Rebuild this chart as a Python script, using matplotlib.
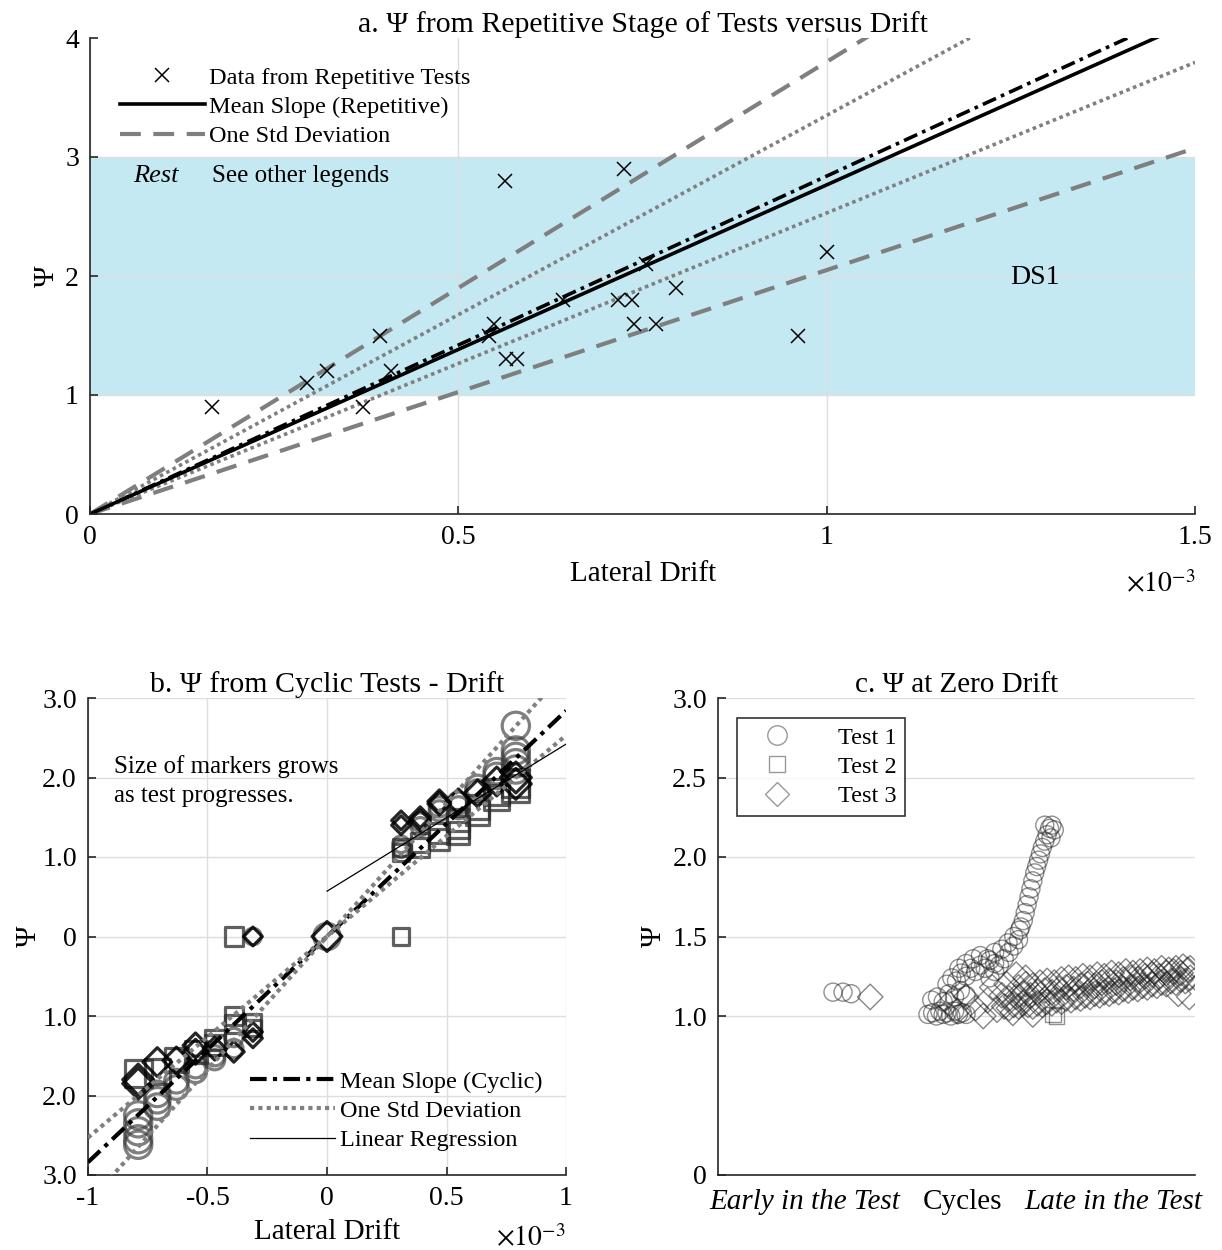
import matplotlib.pyplot as plt
import numpy as np
from matplotlib.ticker import FuncFormatter
from matplotlib.lines import Line2D

plt.rcParams['font.family'] = ['Liberation Serif', 'DejaVu Serif']
plt.rcParams['mathtext.fontset'] = 'stix'
plt.rcParams['font.size'] = 20

# ---- panel a: repetitive tests (drift in units of 1e-3) ----
rep_drift = [0.165, 0.295, 0.322, 0.370, 0.393, 0.408, 0.542, 0.548, 0.563, 0.565, 0.580,
             0.642, 0.725, 0.717, 0.736, 0.738, 0.755, 0.768, 0.795, 0.961, 1.000]
rep_psi = [0.90, 1.10, 1.20, 0.90, 1.50, 1.20, 1.50, 1.60, 2.80, 1.30, 1.30,
           1.80, 2.90, 1.80, 1.80, 1.60, 2.10, 1.60, 1.90, 1.50, 2.20]

rep_mean_slope = 2.766
rep_std_slopes = [2.05, 3.80]
cyc_mean_slope = 2.84
cyc_std_slopes = [2.53, 3.35]
reg_intercept = 0.57
reg_slope = 1.85
reg_drift = [0.0, 1.0]

# ---- panel b: cyclic tests ----
cyc1_drift = [0.31, 0.31, 0.39, 0.39, 0.47, 0.47, 0.55, 0.55, 0.63, 0.63, 0.71, 0.71, 0.79, 0.79, 0.79, 0.79, 0.79,
              -0.39, -0.39, -0.47, -0.47, -0.55, -0.55, -0.63, -0.63, -0.71, -0.71, -0.71,
              -0.79, -0.79, -0.79, -0.79, -0.79,
              0.0, -0.31]
cyc1_psi = [1.10, 1.16, 1.38, 1.44, 1.58, 1.63, 1.62, 1.68, 1.82, 1.88, 2.02, 2.08, 2.10, 2.18, 2.26, 2.34, 2.65,
            -1.27, -1.41, -1.50, -1.55, -1.64, -1.70, -1.82, -1.90, -1.98, -2.06, -2.14,
            -2.25, -2.35, -2.45, -2.55, -2.62,
            0.0, 0.0]

cyc2_drift = [0.31, 0.31, 0.39, 0.39, 0.47, 0.47, 0.55, 0.55, 0.55, 0.63, 0.63, 0.71, 0.71, 0.79, 0.79,
              -0.31, -0.31, -0.39, -0.39, -0.47, -0.47, -0.55, -0.63, -0.71, -0.79,
              -0.39, 0.31]
cyc2_psi = [1.06, 1.12, 1.12, 1.18, 1.22, 1.30, 1.30, 1.38, 1.46, 1.55, 1.63, 1.75, 1.82, 1.86, 1.93,
            -1.08, -1.15, -1.00, -1.10, -1.30, -1.36, -1.45, -1.55, -1.70, -1.72,
            0.0, 0.0]

cyc3_drift = [0.31, 0.31, 0.39, 0.39, 0.47, 0.47, 0.55, 0.63, 0.71, 0.79, 0.79,
              -0.31, -0.31, -0.39, -0.47, -0.55, -0.55, -0.63, -0.71, -0.79, -0.79,
              0.0, -0.31]
cyc3_psi = [1.40, 1.46, 1.46, 1.50, 1.67, 1.70, 1.70, 1.80, 1.95, 1.92, 2.00,
            -1.20, -1.28, -1.45, -1.41, -1.37, -1.45, -1.56, -1.58, -1.80, -1.85,
            0.0, 0.0]

# ---- panel c: psi at zero drift, cycle position 0..100 ----
zero1_cycle = [24.1, 26.2, 27.9,
               44.0, 45.0, 45.8, 46.5, 47.2, 48.0, 48.8, 49.6, 50.4, 51.2, 52.0,
               44.8, 46.0, 47.2, 48.4, 49.6, 50.8, 52.0,
               48.0, 49.0, 50.0, 51.0, 52.0, 53.0, 54.0, 55.0, 56.0, 57.0, 58.0,
               50.5, 52.0, 53.5, 55.0, 56.5, 58.0,
               57.0, 58.0, 59.0, 60.0, 61.0, 62.0, 63.0,
               59.5, 60.8, 62.0, 63.2,
               63.5, 64.0, 64.4, 64.8, 65.2, 65.6, 66.0, 66.4, 66.8,
               67.2, 67.6, 68.0, 68.5, 69.0, 69.5, 70.0, 70.5, 68.5, 69.8]
zero1_psi = [1.15, 1.15, 1.14,
             1.01, 1.02, 1.00, 1.03, 1.01, 1.02, 1.00, 1.03, 1.01, 1.02, 1.01,
             1.10, 1.12, 1.09, 1.14, 1.12, 1.16, 1.13,
             1.20, 1.24, 1.22, 1.27, 1.25, 1.30, 1.28, 1.32, 1.30, 1.35, 1.33,
             1.30, 1.33, 1.36, 1.38, 1.36, 1.40,
             1.24, 1.28, 1.32, 1.36, 1.40, 1.44, 1.48,
             1.42, 1.46, 1.50, 1.54,
             1.56, 1.60, 1.65, 1.70, 1.75, 1.80, 1.85, 1.90, 1.94,
             1.98, 2.02, 2.06, 2.10, 2.14, 2.18, 2.20, 2.17, 2.20, 2.12]

zero2_cycle = [70.2, 71.0]
zero2_psi = [1.01, 1.00]

zero3_cycle = [31.9,
               48.4, 50.2, 52.0, 54.0, 55.6, 56.5, 57.5, 58.5, 59.5, 60.5, 61.8, 62.5, 64.5, 66.0,
               60, 61, 62, 63, 64, 65, 66, 67, 68, 69, 70, 71, 72, 73, 74, 75, 76, 77, 78, 79,
               80, 81, 82, 83, 84, 85, 86, 87, 88, 89, 90, 91, 92, 93, 94, 95, 96, 97, 98, 99,
               61, 62.5, 64, 65.5, 67, 68.5, 70, 71.5, 73, 74.5, 76, 77.5, 79, 80.5, 82, 83.5,
               85, 86.5, 88, 89.5, 91, 92.5, 94, 95.5, 97, 98.5,
               63, 64.5, 66, 67.5, 69, 70.5, 72, 73.5, 75, 76.5, 78, 79.5, 81, 82.5, 84, 85.5,
               87, 88.5, 90, 91.5, 93, 94.5, 96, 97.5, 99,
               96.5, 98.8]
zero3_psi = [1.12,
             1.08, 1.03, 1.12, 1.05, 1.00, 1.10, 1.18, 1.04, 1.13, 1.20, 1.02, 1.26, 1.24, 1.01,
             1.06, 1.05, 1.07, 1.06, 1.08, 1.07, 1.06, 1.08, 1.07, 1.09, 1.08, 1.10, 1.09, 1.11, 1.10, 1.12,
             1.11, 1.13, 1.12, 1.14, 1.13, 1.15, 1.14, 1.16, 1.15, 1.17, 1.16, 1.18, 1.17, 1.19, 1.18, 1.20,
             1.19, 1.21, 1.20, 1.22, 1.21, 1.23, 1.22, 1.24,
             1.11, 1.12, 1.14, 1.13, 1.15, 1.16, 1.15, 1.17, 1.18, 1.17, 1.19, 1.20, 1.19, 1.21, 1.22, 1.21,
             1.23, 1.24, 1.23, 1.25, 1.26, 1.25, 1.27, 1.28, 1.27, 1.29,
             1.18, 1.20, 1.19, 1.21, 1.22, 1.21, 1.23, 1.24, 1.23, 1.25, 1.24, 1.26, 1.25, 1.27, 1.26, 1.28,
             1.27, 1.28, 1.29, 1.28, 1.30, 1.29, 1.30, 1.31, 1.30,
             1.14, 1.12]

c_tick_pos = [18.2, 51.2, 82.8]
c_tick_labels = ['Early in the Test', 'Cycles', 'Late in the Test']

fmt = FuncFormatter(lambda v, p: '%g' % v)


def style(ax):
    for s in ['top', 'right']:
        ax.spines[s].set_visible(False)
    for s in ['left', 'bottom']:
        ax.spines[s].set_color('#262626')
        ax.spines[s].set_linewidth(1.2)
    ax.tick_params(direction='in', length=6, width=1.2, color='#262626', pad=8, labelsize=20)
    ax.grid(True, color='#dedede', lw=1)


fig = plt.figure(figsize=(12.22, 12.5), dpi=100)
ax_a = fig.add_axes([0.0737, 0.5888, 0.9043, 0.3808])
ax_b = fig.add_axes([0.0720, 0.0600, 0.3912, 0.3816])
ax_c = fig.add_axes([0.5876, 0.0600, 0.3903, 0.3816])

# ---------------- panel a ----------------
style(ax_a)
xs = np.array([0, 1.5])
ax_a.axhspan(1, 3, color='#c5e9f3', lw=0, zorder=0.5)
ax_a.plot(xs, cyc_mean_slope * xs, color='k', lw=2.6, dashes=(4, 1.5, 1, 1.5))
for s in cyc_std_slopes:
    ax_a.plot(xs, s * xs, color='#808080', lw=2.6, linestyle=(0, (1, 1)))
for i, s in enumerate(rep_std_slopes):
    ax_a.plot(xs, s * xs, color='#7f7f7f', lw=3, dashes=(5, 3),
              label='One Std Deviation' if i == 0 else None)
ax_a.plot(xs, rep_mean_slope * xs, color='k', lw=2.6, label='Mean Slope (Repetitive)')
ax_a.plot(rep_drift, rep_psi, 'x', color='k', ms=10, mew=1.1, label='Data from Repetitive Tests')

ax_a.set_xlim(0, 1.5)
ax_a.set_ylim(0, 4)
ax_a.set_xticks([0, 0.5, 1, 1.5])
ax_a.set_yticks([0, 1, 2, 3, 4])
ax_a.xaxis.set_major_formatter(fmt)
ax_a.yaxis.set_major_formatter(fmt)
ax_a.get_xgridlines()[-1].set_visible(False)
ax_a.get_ygridlines()[-1].set_visible(False)
ax_a.set_xlabel('Lateral Drift', labelpad=8, fontsize=21)
ax_a.set_ylabel('Ψ', labelpad=4, fontsize=21)
ax_a.set_title('a. Ψ from Repetitive Stage of Tests versus Drift', fontsize=21.5, pad=4)
ax_a.text(1.0, -0.12, r'$\times10^{-3}$', transform=ax_a.transAxes, ha='right', va='top', fontsize=20)

h, l = ax_a.get_legend_handles_labels()
order = [2, 1, 0]
ax_a.legend([h[i] for i in order], [l[i] for i in order], loc='upper left',
            bbox_to_anchor=(0.027, 0.94), frameon=False, handlelength=3.5,
            handletextpad=0.15, labelspacing=0.3, borderpad=0, borderaxespad=0, fontsize=17.5)
ax_a.text(0.058, 2.84, 'Rest', style='italic', va='center', fontsize=19)
ax_a.text(0.166, 2.84, 'See other legends', va='center', fontsize=18)
ax_a.text(1.249, 1.99, 'DS1', va='center', fontsize=20)

# ---------------- panel b ----------------
style(ax_b)
for d, p, m, c, a in [(cyc1_drift, cyc1_psi, 'o', '#3a3a3a', 0.65),
                      (cyc2_drift, cyc2_psi, 's', '#2a2a2a', 0.75),
                      (cyc3_drift, cyc3_psi, 'D', '#000000', 0.85)]:
    d = np.array(d)
    p = np.array(p)
    ms = np.where(d == 0, 19, 7 + 16 * np.abs(d))
    if m == 'D':
        ms = ms * 0.8
    ax_b.scatter(d, p, s=ms ** 2, marker=m, facecolors='none', edgecolors=c,
                 linewidths=2.3, alpha=a, zorder=2)

xb = np.array([-1, 1])
ax_b.plot(xb, cyc_mean_slope * xb, color='k', lw=3, dashes=(4, 1.5, 1, 1.5),
          zorder=3, label='Mean Slope (Cyclic)')
for i, s in enumerate(cyc_std_slopes):
    ax_b.plot(xb, s * xb, color='#808080', lw=3, linestyle=(0, (1, 1)), zorder=3,
              label='One Std Deviation' if i == 0 else None)
rd = np.array(reg_drift)
ax_b.plot(rd, reg_intercept + reg_slope * rd, color='k', lw=0.9, zorder=3, label='Linear Regression')

ax_b.set_xlim(-1, 1)
ax_b.set_ylim(-3, 3)
ax_b.set_xticks([-1, -0.5, 0, 0.5, 1])
ax_b.xaxis.set_major_formatter(fmt)
ax_b.set_yticks([-3, -2, -1, 0, 1, 2, 3])
ax_b.set_yticklabels(['3.0', '2.0', '1.0', '0', '1.0', '2.0', '3.0'])
ax_b.set_xlabel('Lateral Drift', labelpad=6, fontsize=21)
ax_b.set_ylabel('Ψ', labelpad=0, fontsize=21)
ax_b.set_title('b. Ψ from Cyclic Tests - Drift', fontsize=21.5, pad=4)
ax_b.text(1.0, -0.105, r'$\times10^{-3}$', transform=ax_b.transAxes, ha='right', va='top', fontsize=20)
ax_b.text(-0.893, 1.96, 'Size of markers grows\nas test progresses.', va='center',
          linespacing=1.42, fontsize=18)
ax_b.legend(loc='lower left', bbox_to_anchor=(0.339, 0.05), frameon=False, handlelength=3.5,
            handletextpad=0.2, labelspacing=0.3, borderpad=0, borderaxespad=0, fontsize=17.5)

# ---------------- panel c ----------------
style(ax_c)
ax_c.grid(False)
ax_c.yaxis.grid(True, color='#dedede', lw=1)
ax_c.scatter(zero1_cycle, zero1_psi, s=13 ** 2, marker='o', facecolors='none',
             edgecolors='#222222', linewidths=1, alpha=0.5, zorder=2)
ax_c.scatter(zero2_cycle, zero2_psi, s=11 ** 2, marker='s', facecolors='none',
             edgecolors='#222222', linewidths=1, alpha=0.5, zorder=2)
ax_c.scatter(zero3_cycle, zero3_psi, s=13 ** 2, marker='D', facecolors='none',
             edgecolors='#222222', linewidths=1, alpha=0.55, zorder=2)
ax_c.set_xlim(0, 100)
ax_c.set_ylim(0, 3)
ax_c.set_yticks([0, 1, 1.5, 2, 2.5, 3])
ax_c.set_yticklabels(['0', '1.0', '1.5', '2.0', '2.5', '3.0'])
ax_c.set_xticks(c_tick_pos)
ax_c.set_xticklabels(c_tick_labels, fontsize=21)
ax_c.tick_params(axis='x', length=0, pad=10)
for t, lab in zip(ax_c.get_xticklabels(), c_tick_labels):
    if lab != 'Cycles':
        t.set_style('italic')
ax_c.set_ylabel('Ψ', labelpad=4, fontsize=21)
ax_c.set_title('c. Ψ at Zero Drift', fontsize=21, pad=4)
leg_handles = [Line2D([], [], ls='none', marker=m, ms=ms, mfc='none', mec='#999999', mew=1)
               for m, ms in [('o', 14), ('s', 12), ('D', 12)]]
leg = ax_c.legend(leg_handles, ['Test 1', 'Test 2', 'Test 3'], loc='upper left',
                  bbox_to_anchor=(0.04, 0.958), frameon=True, fancybox=False, edgecolor='k',
                  handlelength=2.6, handletextpad=1.2, labelspacing=0.3, borderpad=0.35,
                  borderaxespad=0, fontsize=17.5)
leg.get_frame().set_linewidth(1.2)

fig.savefig('out.png', dpi=100)
